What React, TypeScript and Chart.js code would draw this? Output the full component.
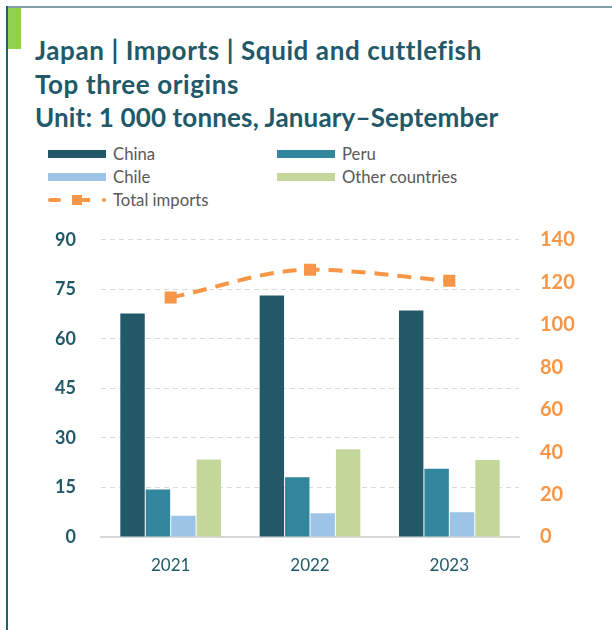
import React, { useEffect, useRef } from "react";
import { Chart, registerables } from "chart.js";

Chart.register(...registerables);

const categories = ["2021", "2022", "2023"];
const chinaValues = [67.7, 73.1, 68.6];
const peruValues = [14.4, 18.1, 20.7];
const chileValues = [6.4, 7.2, 7.5];
const otherValues = [23.5, 26.6, 23.3];
const totalValues = [112.8, 125.9, 120.7];
const leftTicks = [0, 15, 30, 45, 60, 75, 90];
const rightTicks = [0, 20, 40, 60, 80, 100, 120, 140];

const titleLines = [
  "Japan | Imports | Squid and cuttlefish",
  "Top three origins",
  "Unit: 1 000 tonnes, January\u2013September",
];
const titleSpacing = [0.6, 0.6, 0.15];

const C_CHINA = "#215968";
const C_PERU = "#31859C";
const C_CHILE = "#9DC3E6";
const C_OTHER = "#C4D79B";
const C_ORANGE = "#F79646";
const TEAL = "#215968";

const FONT = "Lato, 'Open Sans', sans-serif";

export default function App() {
  const ref = useRef<HTMLCanvasElement | null>(null);

  useEffect(() => {
    if (!ref.current) return;
    const chart = new Chart(ref.current, {
      type: "bar",
      data: {
        labels: categories,
        datasets: [
          {
            type: "line",
            label: "Total imports",
            data: totalValues,
            yAxisID: "y1",
            borderColor: C_ORANGE,
            backgroundColor: C_ORANGE,
            borderWidth: 4,
            borderDash: [14, 9],
            cubicInterpolationMode: "monotone",
            pointStyle: "rect",
            pointRadius: 8.5,
            pointBackgroundColor: C_ORANGE,
            pointBorderWidth: 0,
            order: 0,
          } as any,
          { label: "China", data: chinaValues, backgroundColor: C_CHINA, yAxisID: "y", order: 1 },
          { label: "Peru", data: peruValues, backgroundColor: C_PERU, yAxisID: "y", order: 1 },
          { label: "Chile", data: chileValues, backgroundColor: C_CHILE, yAxisID: "y", order: 1 },
          { label: "Other countries", data: otherValues, backgroundColor: C_OTHER, yAxisID: "y", order: 1 },
        ],
      },
      options: {
        animation: false,
        responsive: false,
        maintainAspectRatio: false,
        layout: { padding: { top: 19, left: 0, right: 0, bottom: 0 } },
        datasets: {
          bar: {
            barPercentage: 0.96,
            categoryPercentage: 0.73,
            borderWidth: 0,
          },
        },
        plugins: {
          legend: { display: false },
          tooltip: { enabled: false },
          title: { display: false },
        },
        scales: {
          x: {
            grid: { display: false, drawTicks: false },
            border: { display: true, color: "#D9D9D9", width: 2 },
            ticks: {
              color: TEAL,
              font: { family: FONT, size: 17 },
              padding: 18,
            },
            afterFit: (s: any) => {
              s.height = 53;
            },
          },
          y: {
            position: "left",
            min: 0,
            max: 90,
            afterBuildTicks: (s: any) => {
              s.ticks = leftTicks.map((v) => ({ value: v }));
            },
            grid: {
              color: "#D9D9D9",
              lineWidth: 1,
              drawTicks: false,
            },
            border: { display: false, dash: [5, 4] },
            ticks: {
              color: TEAL,
              font: { family: FONT, size: 18, weight: "bold" },
              padding: 25,
            },
            afterFit: (s: any) => {
              s.width = 101;
            },
          },
          y1: {
            position: "right",
            min: 0,
            max: 140,
            afterBuildTicks: (s: any) => {
              s.ticks = rightTicks.map((v) => ({ value: v }));
            },
            grid: { display: false, drawTicks: false },
            border: { display: false },
            ticks: {
              color: C_ORANGE,
              font: { family: FONT, size: 20, weight: "bold" },
              padding: 21,
            },
            afterFit: (s: any) => {
              s.width = 93;
            },
          },
        },
      },
    });
    return () => chart.destroy();
  }, []);

  const legendItem = (color: string, label: string, left: number, top: number) => (
    <div key={label} style={{ position: "absolute", left, top, height: 20, display: "flex", alignItems: "center" }}>
      <div style={{ width: 58, height: 8, background: color }} />
      <span style={{ marginLeft: 7, fontFamily: FONT, fontSize: 16.7, color: "#595959" }}>{label}</span>
    </div>
  );

  return (
    <div style={{ position: "fixed", left: 0, top: 0, width: 612, height: 630, background: "#fff", overflow: "hidden" }}>
      <div style={{ position: "absolute", left: 6, top: 6, width: 606, height: 2, background: "#7F9EA6" }} />
      <div style={{ position: "absolute", left: 6, top: 6, width: 2, height: 624, background: "#1F6270" }} />
      <div style={{ position: "absolute", left: 8, top: 8, width: 13, height: 41, background: "#92D050" }} />
      <div style={{ position: "absolute", left: 35, top: 34, fontFamily: FONT, fontWeight: "bold", fontSize: 26, color: TEAL, lineHeight: "33.5px", whiteSpace: "nowrap" }}>
        {titleLines.map((t, i) => (
          <div key={t} style={{ letterSpacing: titleSpacing[i] }}>{t}</div>
        ))}
      </div>
      {legendItem(C_CHINA, "China", 48, 144)}
      {legendItem(C_PERU, "Peru", 277, 144)}
      {legendItem(C_CHILE, "Chile", 48, 167)}
      {legendItem(C_OTHER, "Other countries", 277, 167)}
      <div style={{ position: "absolute", left: 48, top: 190, height: 20, display: "flex", alignItems: "center" }}>
        <div style={{ position: "relative", width: 58, height: 20 }}>
          <div style={{ position: "absolute", left: 0, top: 8, width: 13, height: 4, borderRadius: 2, background: C_ORANGE }} />
          <div style={{ position: "absolute", left: 24, top: 5, width: 10, height: 10, background: C_ORANGE }} />
          <div style={{ position: "absolute", left: 34, top: 8, width: 8, height: 4, background: C_ORANGE }} />
          <div style={{ position: "absolute", left: 54, top: 8, width: 4, height: 4, borderRadius: 2, background: C_ORANGE }} />
        </div>
        <span style={{ marginLeft: 7, fontFamily: FONT, fontSize: 16.7, color: "#595959" }}>Total imports</span>
      </div>
      <canvas ref={ref} width={612} height={386} style={{ position: "absolute", left: 0, top: 204, width: 612, height: 386 }} />
    </div>
  );
}
